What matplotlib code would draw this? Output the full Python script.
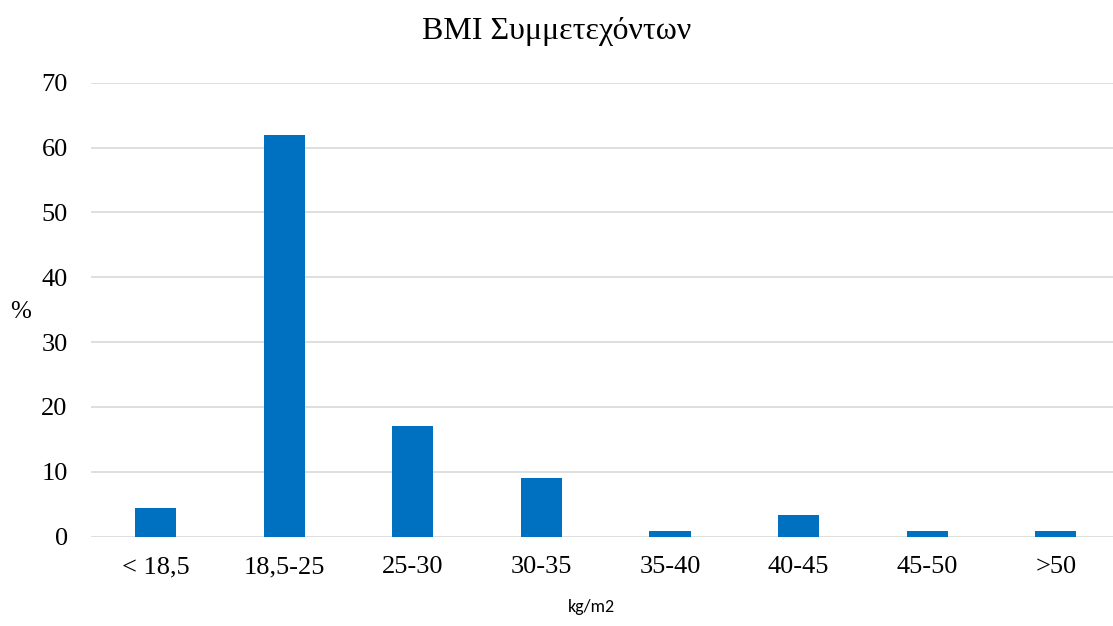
import matplotlib
matplotlib.use('Agg')
import matplotlib.pyplot as plt

# BMI classes (kg/m2) and share of participants in each (%)
categories = ['< 18,5', '18,5-25', '25-30', '30-35', '35-40', '40-45', '45-50', '>50']
percent = [4.4, 62.0, 17.1, 9.0, 0.9, 3.3, 0.9, 0.9]
y_ticks = [0, 10, 20, 30, 40, 50, 60, 70]

W, H = 1113, 626
fig = plt.figure(figsize=(W / 100, H / 100), dpi=100)

# plot area in pixels (the right end runs slightly past the canvas)
left, right, top, bottom = 91.3, 1120.0, 82.7, 536.7
ax = fig.add_axes([left / W, 1 - bottom / H, (right - left) / W, (bottom - top) / H])

serif = ['Liberation Serif', 'DejaVu Serif']

x = range(len(categories))
ax.bar(x, percent, width=0.32, color='#0070c0', zorder=3)

ax.set_xlim(-0.5, len(categories) - 0.5)
ax.set_ylim(0, 70)
ax.set_yticks(y_ticks)
ax.set_xticks(list(x))
ax.set_xticklabels(categories)
ax.yaxis.grid(True, color='#d9d9d9', linewidth=1.2, zorder=0)
ax.set_axisbelow(True)

for s in ax.spines.values():
    s.set_visible(False)
ax.tick_params(axis='both', length=0, labelsize=19)
ax.tick_params(axis='y', pad=17)
ax.tick_params(axis='x', pad=14)
for lab in ax.get_xticklabels() + ax.get_yticklabels():
    lab.set_family(serif)

fig.text(557 / W, 1 - 32 / H, 'BMI Συμμετεχόντων', family=serif, fontsize=23,
         ha='center', va='center')
fig.text(21 / W, 1 - 312 / H, '%', family=serif, fontsize=18, ha='center', va='center')
fig.text(591 / W, 1 - 607 / H, 'kg/m2', family=['Carlito', 'Liberation Sans', 'DejaVu Sans'],
         fontsize=13, ha='center', va='center')

fig.savefig('out.png', dpi=100)
